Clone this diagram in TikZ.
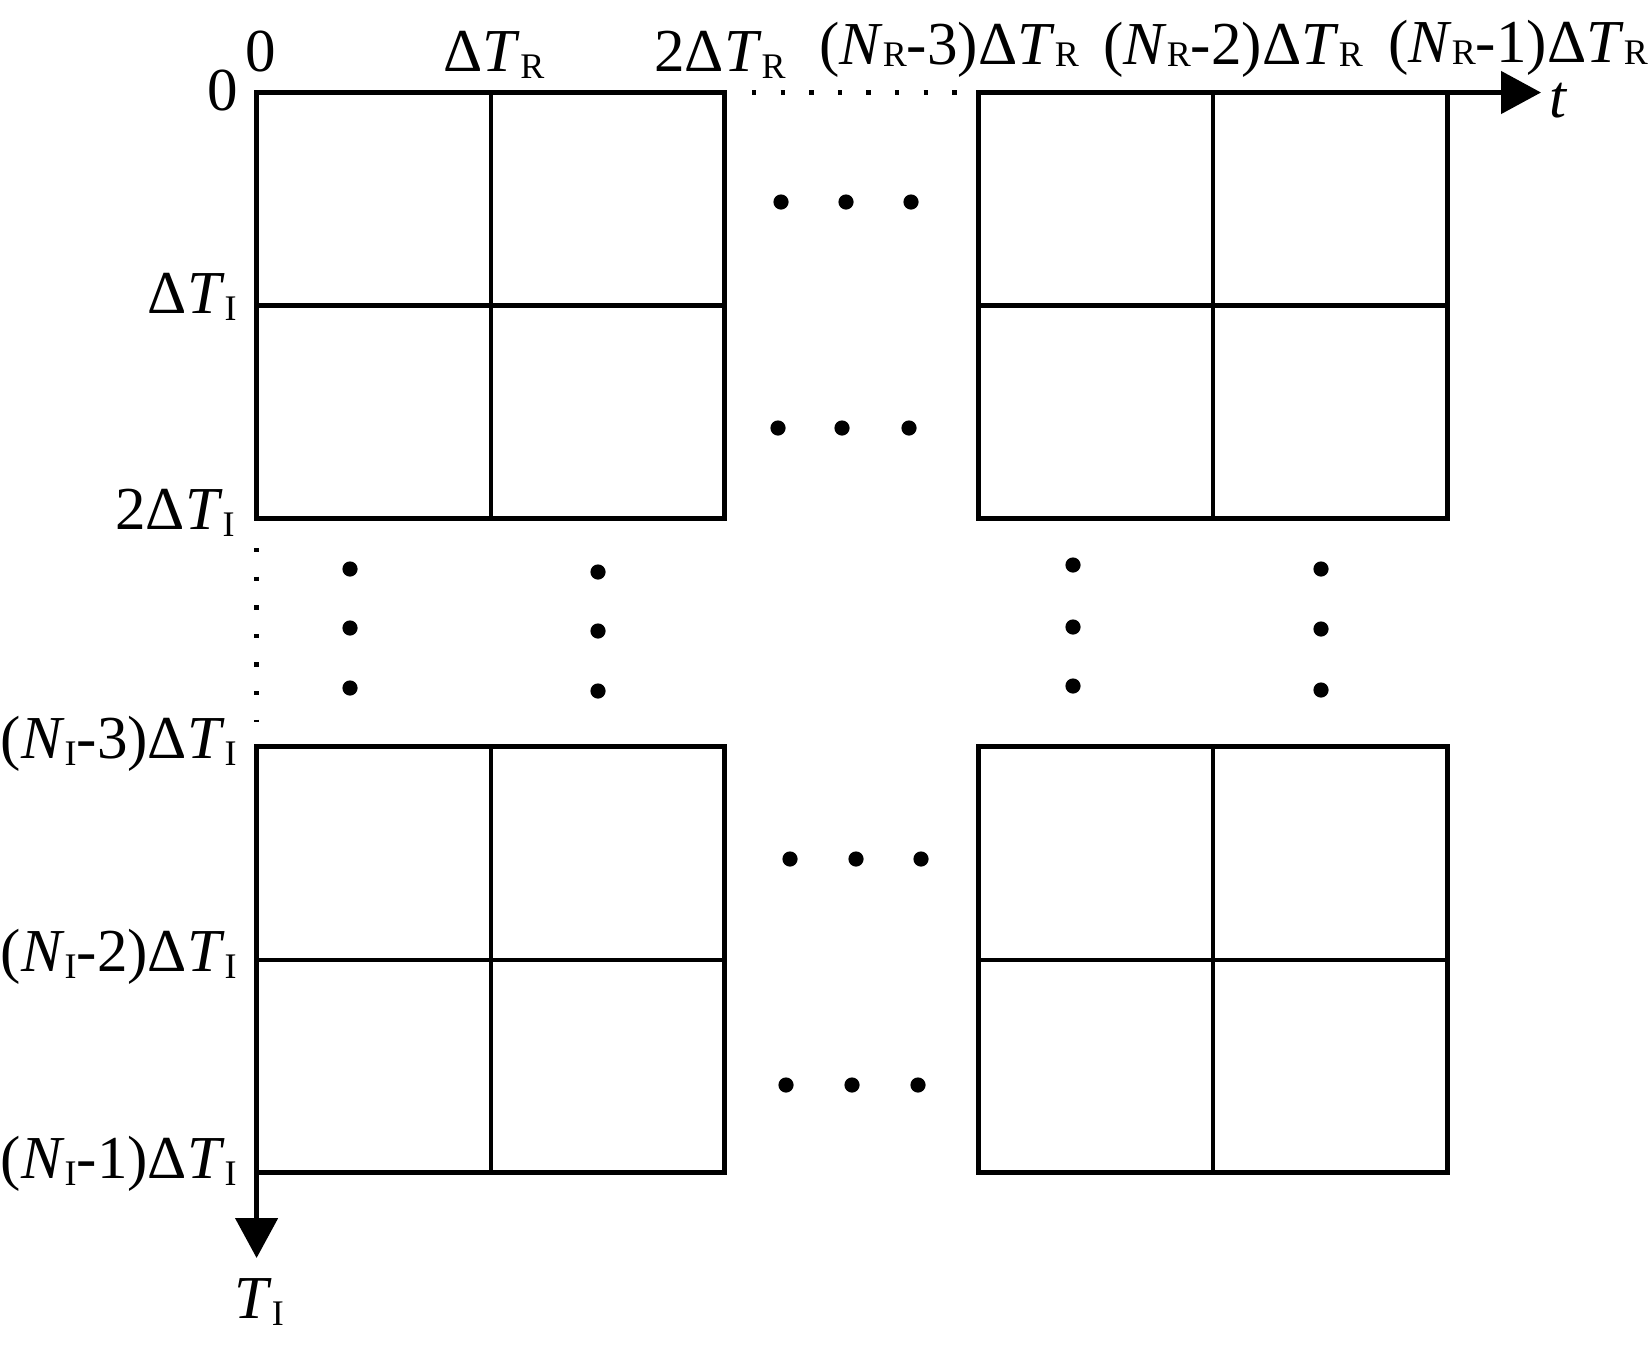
\documentclass[tikz,border=0pt]{standalone}
\usepackage{fontspec}
\setmainfont{Liberation Serif}
\usetikzlibrary{arrows.meta}
\newcommand\sbs[2][-0.12em]{\raisebox{#1}{\fontsize{18}{18}\selectfont #2}}
\newcommand\ital[1]{\textit{#1}}
\begin{document}
\begin{tikzpicture}[x=0.5pt,y=-0.5pt,
  lab/.style={inner sep=0pt,font=\fontsize{30.5}{36}\selectfont},
  outerline/.style={line width=2.4pt},
  innerline/.style={line width=2.1pt},
  axisline/.style={line width=2.4pt,-{Triangle[length=20pt,width=21pt]}},
  dotline/.style={line width=2.2pt,dash pattern=on 2.2pt off 12.1pt},
  bigdot/.style={fill=black}]
\useasboundingbox (0,0) rectangle (1649,1346);
% blocks
\foreach \l/\r/\t/\b in {256.6/724.6/92.5/518.5, 978.1/1447.1/92.5/518.5, 256.6/724.6/746.7/1172.6, 978.1/1447.1/746.7/1172.6} {
  \draw[innerline] ({(\l+\r)/2},\t) -- ({(\l+\r)/2},\b);
  \draw[innerline] (\l,{(\t+\b)/2}) -- (\r,{(\t+\b)/2});
  \draw[outerline] (\l,\t) rectangle (\r,\b);
}
% axes
\coordinate (O) at (256.6,92.5);
\coordinate (tStart) at (1447.1,92.5);
\coordinate (tEnd) at (1541,92.5);
\coordinate (TStart) at (256.6,1172.6);
\coordinate (TEnd) at (256.6,1258);
\draw[axisline] (tStart) -- (tEnd);
\draw[axisline] (TStart) -- (TEnd);
% dotted links
\coordinate (dh1) at (752,92.5);
\coordinate (dh2) at (958,92.5);
\coordinate (dv1) at (256.6,548);
\coordinate (dv2) at (256.6,722);
\draw[dotline] (dh1) -- (dh2);
\draw[dotline] (dv1) -- (dv2);
% ellipsis dots
\foreach \p in {(781,202),(846,202),(911,202),
                (778,428),(842,428),(909,428),
                (790,859),(856,859),(921,859),
                (786,1085),(852,1085),(918,1085),
                (350,569),(350,628),(350,688),
                (598,572),(598,631),(598,691),
                (1073,565),(1073,627),(1073,686),
                (1321,569),(1321,629),(1321,690)}
  \fill[bigdot] \p circle[radius=3.8pt];
% top labels
\node[lab,anchor=base] (t0) at (261,71) {0};
\node[lab,anchor=base] (t1) at (494,71) {Δ\ital{T}\sbs{R}};
\node[lab,anchor=base] (t2) at (720,71) {2Δ\ital{T}\sbs{R}};
\node[lab,anchor=base] (t3) at (949,64) {(\ital{N}\sbs[-0.04em]{R}-3)Δ\ital{T}\sbs[-0.04em]{R}};
\node[lab,anchor=base] (t4) at (1233,64) {(\ital{N}\sbs[-0.04em]{R}-2)Δ\ital{T}\sbs[-0.04em]{R}};
\node[lab,anchor=base] (t5) at (1518,62) {(\ital{N}\sbs[-0.04em]{R}-1)Δ\ital{T}\sbs[-0.04em]{R}};
\node[lab,anchor=base] (tl) at (1559,117) {\ital{t}};
% left labels
\node[lab,anchor=base east] (l0) at (238,110) {0};
\node[lab,anchor=base east] (l1) at (237,313) {Δ\ital{T}\sbs{I}};
\node[lab,anchor=base east] (l2) at (235,529) {2Δ\ital{T}\sbs{I}};
\node[lab,anchor=base east] (l3) at (237,758) {(\ital{N}\sbs{I}-3)Δ\ital{T}\sbs{I}};
\node[lab,anchor=base east] (l4) at (237,971) {(\ital{N}\sbs{I}-2)Δ\ital{T}\sbs{I}};
\node[lab,anchor=base east] (l5) at (237,1178) {(\ital{N}\sbs{I}-1)Δ\ital{T}\sbs{I}};
\node[lab,anchor=base] (TI) at (259,1318) {\ital{T}\sbs{I}};
\end{tikzpicture}
\end{document}
